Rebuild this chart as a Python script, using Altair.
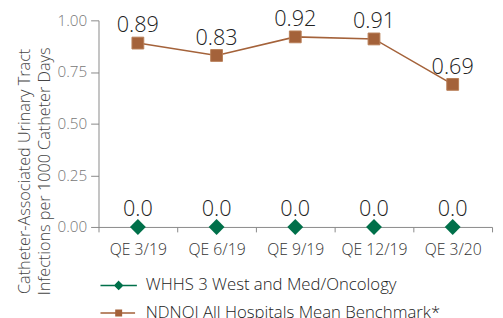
import altair as alt
import pandas as pd

quarters = ["QE 3/19", "QE 6/19", "QE 9/19", "QE 12/19", "QE 3/20"]
series_names = ["WHHS 3 West and Med/Oncology", "NDNQI All Hospitals Mean Benchmark*"]
whhs = [0.0, 0.0, 0.0, 0.0, 0.0]
ndnqi = [0.89, 0.83, 0.92, 0.91, 0.69]
whhs_labels = ["0.0", "0.0", "0.0", "0.0", "0.0"]
ndnqi_labels = ["0.89", "0.83", "0.92", "0.91", "0.69"]
y_ticks = [0, 0.25, 0.5, 0.75, 1.0]

rows = []
for q, v, l in zip(quarters, whhs, whhs_labels):
    rows.append({"quarter": q, "series": series_names[0], "value": v, "label": l})
for q, v, l in zip(quarters, ndnqi, ndnqi_labels):
    rows.append({"quarter": q, "series": series_names[1], "value": v, "label": l})
df = pd.DataFrame(rows)

GREEN = "#00704A"
BROWN = "#A4623A"
FONT = "Open Sans"

x_enc = alt.X("quarter:N", sort=quarters,
              scale=alt.Scale(type="band", paddingInner=0, paddingOuter=0),
              axis=alt.Axis(title=None, labelAngle=0, labelFontSize=16, labelColor="#333333",
                            labelFont=FONT, labelPadding=10, domainColor="#888888",
                            tickColor="#888888", tickSize=5, tickBand="extent",
                            labelFontWeight=300))
y_enc = alt.Y("value:Q", scale=alt.Scale(domain=[0, 1], nice=False),
              axis=alt.Axis(values=y_ticks, format=".2f", labelFontSize=15.5, labelColor="#777777",
                            labelFont=FONT, labelFontWeight=300, domainColor="#888888",
                            tickColor="#888888", tickSize=8, labelPadding=4, grid=False,
                            title=["Catheter-Associated Urinary Tract", "Infections per 1000 Catheter Days"],
                            titleFont=FONT, titleFontWeight=300, titleFontSize=16.5,
                            titleColor="#444444", titlePadding=5, titleY=153, titleLineHeight=20))

base = alt.Chart(df)

line = base.transform_filter(alt.datum.series == series_names[1]).mark_line(
    color=BROWN, strokeWidth=1.6).encode(x=x_enc, y=y_enc)

pts_green = base.transform_filter(alt.datum.series == series_names[0]).mark_point(
    filled=True, opacity=1, shape="diamond", size=260, color=GREEN).encode(x=x_enc, y=y_enc)
pts_brown = base.transform_filter(alt.datum.series == series_names[1]).mark_point(
    filled=True, opacity=1, shape="square", size=144, fill=BROWN, stroke="#B98058",
    strokeWidth=1).encode(x=x_enc, y=y_enc)

labels = base.mark_text(baseline="alphabetic", dy=-11, fontSize=22, font=FONT, fontWeight=300,
                        color="#222222").encode(x=x_enc, y=y_enc, text="label:N")

legend_paths = [
    "M-1,0H1M0,-0.21L0.21,0L0,0.21L-0.21,0Z",
    "M-1,0H0.9M-0.15,-0.15H0.15V0.15H-0.15Z",
]
leg = alt.Legend(title=None, orient="none", legendX=1, legendY=250,
                 labelFontSize=17, labelFont=FONT, labelFontWeight=300, labelLimit=0,
                 labelColor="#222222", symbolSize=1369, symbolOpacity=1,
                 symbolStrokeWidth=1.5, labelOffset=8, rowPadding=-3)
leg_layer = base.mark_point(filled=True, clip=True, strokeWidth=1.5).encode(
    x=x_enc, y=alt.value(-60),
    color=alt.Color("series:N", scale=alt.Scale(domain=series_names, range=[GREEN, BROWN]), legend=leg),
    stroke=alt.Stroke("series:N", scale=alt.Scale(domain=series_names, range=[GREEN, BROWN]), legend=leg),
    shape=alt.Shape("series:N", scale=alt.Scale(domain=series_names, range=legend_paths), legend=leg),
)

chart = alt.layer(line, pts_green, pts_brown, labels, leg_layer).properties(
    width=400, height=210,
    autosize=alt.AutoSizeParams(type="none"),
    padding={"left": 92, "top": 10, "right": 3, "bottom": 90},
).configure_view(stroke=None)

chart.save("out.html", embed_options={"renderer": "svg", "actions": False})
